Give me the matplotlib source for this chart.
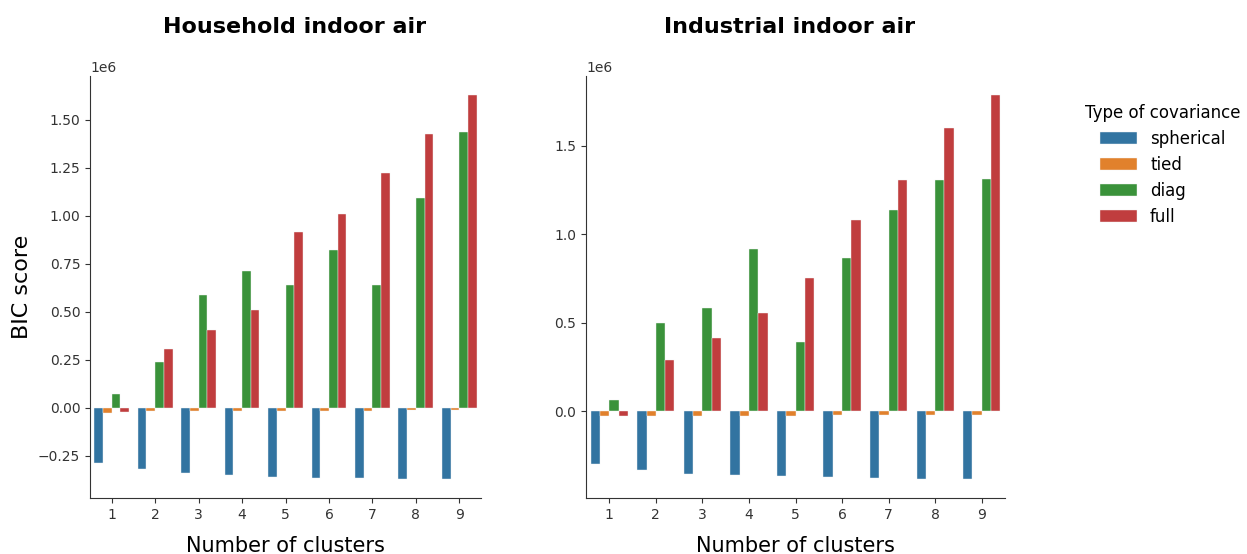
import matplotlib
matplotlib.use("Agg")
import matplotlib.pyplot as plt
import numpy as np

clusters = [1, 2, 3, 4, 5, 6, 7, 8, 9]
cov_types = ["spherical", "tied", "diag", "full"]
colors = ["#3274a1", "#e1812c", "#3a923a", "#c03d3e"]

# BIC scores (x1e6)
household = {
    "spherical": [-0.290, -0.318, -0.339, -0.349, -0.361, -0.366, -0.366, -0.371, -0.371],
    "tied": [-0.026, -0.020, -0.019, -0.018, -0.018, -0.017, -0.015, -0.014, -0.014],
    "diag": [0.070, 0.236, 0.587, 0.712, 0.642, 0.820, 0.637, 1.092, 1.436],
    "full": [-0.025, 0.304, 0.405, 0.507, 0.915, 1.012, 1.221, 1.429, 1.629],
}
industrial = {
    "spherical": [-0.298, -0.329, -0.351, -0.359, -0.365, -0.370, -0.376, -0.381, -0.381],
    "tied": [-0.025, -0.025, -0.024, -0.024, -0.024, -0.020, -0.019, -0.019, -0.019],
    "diag": [0.064, 0.498, 0.585, 0.916, 0.395, 0.869, 1.137, 1.305, 1.311],
    "full": [-0.025, 0.291, 0.412, 0.557, 0.754, 1.084, 1.305, 1.602, 1.787],
}

fig = plt.figure(figsize=(12.47, 5.54), dpi=100)
ax1 = fig.add_axes([90 / 1247, 56 / 554, 391 / 1247, 422 / 554])
ax2 = fig.add_axes([586 / 1247, 56 / 554, 419 / 1247, 422 / 554])

x = np.arange(len(clusters))
w = 0.2
for ax, data, title, tx in [(ax1, household, "Household indoor air", 0.524),
                            (ax2, industrial, "Industrial indoor air", 0.487)]:
    for i, ct in enumerate(cov_types):
        vals = np.array(data[ct]) * 1e6
        ax.bar(x + (i - 1.5) * w, vals, width=w, color=colors[i],
               edgecolor="#f4f4f4", linewidth=0.3, label=ct)
    ax.set_xticks(x)
    ax.set_xticklabels([str(c) for c in clusters])
    ax.set_xlim(-0.5, len(clusters) - 0.5)
    ax.spines["top"].set_visible(False)
    ax.spines["right"].set_visible(False)
    for s in ["left", "bottom"]:
        ax.spines[s].set_color("#333333")
    ax.tick_params(colors="#333333", labelsize=10)
    ax.yaxis.get_offset_text().set_color("#333333")
    t = ax.set_title(title, fontsize=16, fontweight="bold", pad=31)
    t.set_x(tx)
    ax.set_xlabel("Number of clusters", fontsize=15, labelpad=10)

ax1.set_yticks(np.arange(-0.25, 1.51, 0.25) * 1e6)
ax2.set_yticks(np.arange(0.0, 1.51, 0.5) * 1e6)
ax1.set_ylabel("BIC score", fontsize=16)

handles, labels = ax1.get_legend_handles_labels()
fig.legend(handles, labels, title="Type of covariance", loc="upper left",
           bbox_to_anchor=(1070 / 1247, 1 - 89 / 554), frameon=False,
           fontsize=12, title_fontsize=12, handlelength=2.2, labelspacing=0.48)

fig.savefig("out.png", dpi=100)
